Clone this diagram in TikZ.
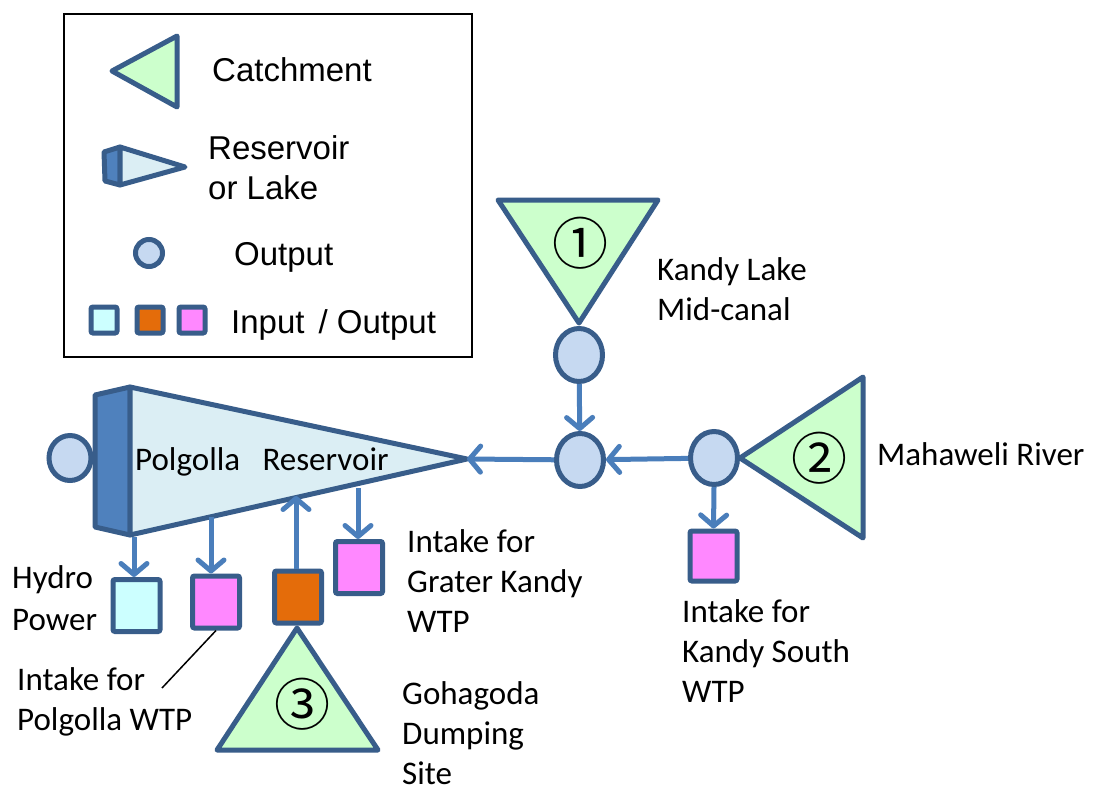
\documentclass[tikz,border=0pt]{standalone}
\usepackage{fontspec}
\setmainfont{Carlito}
\newfontfamily\arialf{Liberation Sans}
\newfontfamily\symf{Noto Sans CJK JP}
\usetikzlibrary{arrows.meta,shapes.geometric}
\definecolor{bord}{HTML}{385D8A}
\definecolor{arrc}{HTML}{4A7EBB}
\definecolor{catchfill}{HTML}{CCFFCC}
\definecolor{resfill}{HTML}{DBEEF4}
\definecolor{barfill}{HTML}{4F81BD}
\definecolor{circfill}{HTML}{C6D9F1}
\definecolor{cyanfill}{HTML}{CCFFFF}
\definecolor{orangefill}{HTML}{E46C0A}
\definecolor{magfill}{HTML}{FF88FF}
\tikzset{
  catch/.style={draw=bord, fill=catchfill, line width=5pt, line join=round},
  resv/.style={draw=bord, fill=resfill, line width=5pt, line join=round},
  barst/.style={draw=bord, fill=barfill, line width=5pt, line join=round},
  outc/.style={ellipse, draw=bord, fill=circfill, line width=5pt, minimum width=47pt, minimum height=53pt, inner sep=0pt},
  iobox/.style={rectangle, draw=bord, line width=5pt, rounded corners=2pt, minimum width=47pt, minimum height=52pt, inner sep=0pt},
  legbox/.style={rectangle, draw=bord, line width=5pt, rounded corners=2pt, minimum width=26pt, minimum height=26pt, inner sep=0pt},
  arr/.style={draw=arrc, line width=5pt, -{Straight Barb[round,length=11pt,width=26pt]}},
  lbl/.style={font=\fontsize{33}{40}\selectfont, anchor=base west, align=left, inner sep=0pt},
  leg/.style={font=\arialf\fontsize{33}{40}\selectfont, anchor=base west, align=left, inner sep=0pt},
  num/.style={font=\symf\fontsize{56}{56}\selectfont, inner sep=0pt}
}
\begin{document}
\begin{tikzpicture}[x=1pt,y=-1pt]
\useasboundingbox[fill=white] (0,0) rectangle (1099,789);

% ---------- legend ----------
\draw[line width=1.5pt] (64,14) rectangle (472,357);
\draw[catch] (112,71) -- (177,36) -- (177,107) -- cycle;
\node[leg] (lcatch) at (212,82) {Catchment};
\draw[barst] (104,152) -- (120,147) -- (120,185) -- (105,181) -- cycle;
\draw[resv] (120,147) -- (185,167) -- (120,185) -- cycle;
\node[leg] (lres) at (208,199) {Reservoir\\or Lake};
\node[outc, minimum width=27pt, minimum height=27pt] (lcirc) at (149,253) {};
\node[leg] (lout) at (234,265) {Output};
\node[legbox, fill=cyanfill] (lb1) at (104,320) {};
\node[legbox, fill=orangefill] (lb2) at (150,320) {};
\node[legbox, fill=magfill] (lb3) at (192,320) {};
\node[leg] (lio) at (231,333) {Input\hspace{14pt}/ Output};

% ---------- reservoir ----------
\node[outc, minimum width=42pt, minimum height=45pt] (L) at (70,458) {};
\draw[barst] (95,395) -- (130,387) -- (130,535) -- (95,527) -- cycle;
\draw[resv] (130,387) -- (467,459) -- (130,535) -- cycle;
\coordinate (restip) at (467,459);
\node[lbl] (restext) at (135,470) {Polgolla~~ Reservoir};

% ---------- boxes below ----------
\node[iobox, fill=cyanfill] (hydro) at (136.5,605.5) {};
\node[iobox, fill=magfill] (polg) at (216,602) {};
\node[iobox, fill=orangefill] (orng) at (298,597) {};
\node[iobox, fill=magfill] (grk) at (359,567.5) {};

\coordinate (s1) at (134,537);
\coordinate (s2) at (211,517);
\coordinate (s3) at (296,496);
\coordinate (s4) at (358,488);
\draw[arr] (s1) -- (s1 |- hydro.north);
\draw[arr] (s2) -- (s2 |- polg.north);
\draw[arr] (s3 |- orng.north) -- (s3);
\draw[arr] (s4) -- (s4 |- grk.north);

\coordinate (lead) at (162,688);
\draw[line width=1.5pt] (polg.south) -- (lead);

\draw[catch] (297,628) -- (378,750) -- (217,750) -- cycle;
\node[num] (n3) at (302,704) {③};

\node[lbl] (thydro) at (12,630) {Hydro\\[2pt]Power};
\node[lbl] (tpolg) at (17,730) {Intake for\\Polgolla WTP};
\node[lbl] (tgrk) at (407,632) {Intake for\\Grater Kandy\\WTP};
\node[lbl] (tgoh) at (402,784) {Gohagoda\\Dumping\\Site};

% ---------- right part ----------
\draw[catch] (498,200) -- (658,200) -- (579,323) -- cycle;
\node[num] (n1) at (580,243) {①};
\node[lbl] (tkl) at (657,320) {Kandy Lake\\Mid-canal};

\node[outc] (A) at (579,355) {};
\node[outc] (B) at (580,460) {};
\node[outc] (C) at (714,458) {};

\draw[catch] (740,458) -- (863,377) -- (863,538) -- cycle;
\node[num] (n2) at (819,458) {②};
\node[lbl] (tmah) at (877,465) {Mahaweli River};

\node[iobox, fill=magfill, minimum height=50pt] (ks) at (713.5,556) {};
\node[lbl] (tks) at (682,702) {Intake for\\Kandy South\\WTP};

\draw[arr] (A) -- (B);
\draw[arr] (B) -- (restip);
\draw[arr] (C) -- (B);
\draw[arr] (C.south) -- (ks.north);
\end{tikzpicture}
\end{document}
